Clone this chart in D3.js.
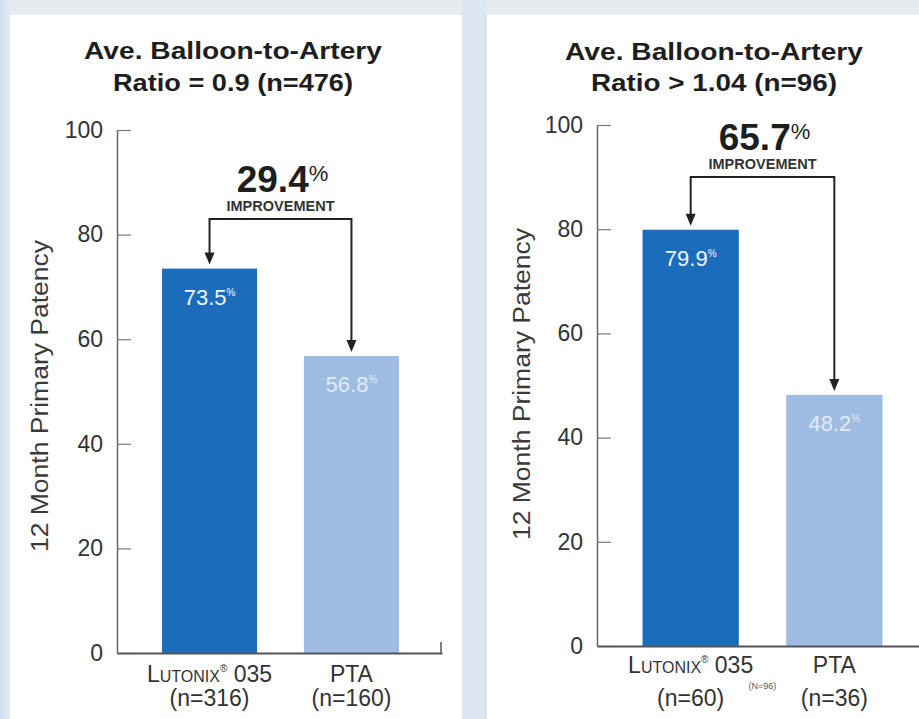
<!DOCTYPE html>
<html>
<head>
<meta charset="utf-8">
<script src="https://cdn.jsdelivr.net/npm/d3@7"></script>
<style>
  html, body { margin: 0; padding: 0; background: #e7ecf1; }
  svg { display: block; font-family: "Liberation Sans", Arial, sans-serif; }
</style>
</head>
<body>
<svg id="chart" width="919" height="719"></svg>
<script>
// ---- data ----
const categories = ["LUTONIX 035", "PTA"];
const leftTitle = ["Ave. Balloon-to-Artery", "Ratio = 0.9 (n=476)"];
const rightTitle = ["Ave. Balloon-to-Artery", "Ratio > 1.04 (n=96)"];
const leftValues = [73.5, 56.8];
const rightValues = [79.9, 48.2];
const leftCounts = ["(n=316)", "(n=160)"];
const rightCounts = ["(n=60)", "(n=36)"];
const leftImprovement = "29.4";
const rightImprovement = "65.7";
const rightNote = "(N=96)";
const yTicks = [0, 20, 40, 60, 80, 100];
const yLabel = "12 Month Primary Patency";
const bracketLevels = [83, 90];

// ---- layout ----
const colors = ["#1b6dbc", "#9fbce2"];
const valueTextColors = ["#ffffff", "#eef3fb"];
const layouts = [
  { x0: 10, x1: 462, axisX: 117, yTop: 130, yBot: 653, bandEnd: 444, xEnd: 442, endTick: true,
    titleX: 233, titleY: [59, 91], titleLen: [298, 240], ylabX: 48, ylabY: 396,
    catY: [682, 706] },
  { x0: 487, x1: 919, axisX: 597, yTop: 125, yBot: 646, bandEnd: 928, xEnd: 930, endTick: false,
    titleX: 714, titleY: [60, 91], titleLen: [298, 246], ylabX: 530, ylabY: 384,
    catY: [673, 706] }
];
const panels = [
  { title: leftTitle, values: leftValues, counts: leftCounts, imp: leftImprovement, note: null, level: bracketLevels[0] },
  { title: rightTitle, values: rightValues, counts: rightCounts, imp: rightImprovement, note: rightNote, level: bracketLevels[1] }
];

const svg = d3.select("#chart");

// background
svg.append("rect").attr("x", 0).attr("y", 0).attr("width", 919).attr("height", 719).attr("fill", "#e6ebf0");
const grad = svg.append("defs").append("linearGradient").attr("id", "edge").attr("x1", 0).attr("x2", 1);
grad.append("stop").attr("offset", 0).attr("stop-color", "#cfe0f0");
grad.append("stop").attr("offset", 1).attr("stop-color", "#e2ebf4");
svg.append("rect").attr("x", 0).attr("y", 0).attr("width", 10).attr("height", 719).attr("fill", "url(#edge)");
svg.append("rect").attr("x", 462).attr("y", 0).attr("width", 25).attr("height", 719).attr("fill", "#dce6f0");

panels.forEach((p, i) => {
  const L = layouts[i];
  const g = svg.append("g");

  g.append("rect").attr("x", L.x0).attr("y", 15).attr("width", L.x1 - L.x0).attr("height", 719 - 15)
    .attr("fill", "#ffffff");

  const y = d3.scaleLinear().domain([0, 100]).range([L.yBot, L.yTop]);
  const x = d3.scaleBand().domain(categories).range([L.axisX, L.bandEnd])
    .paddingInner(0.33).paddingOuter(0.317);

  // title
  p.title.forEach((t, k) => {
    g.append("text").attr("x", L.titleX).attr("y", L.titleY[k])
      .attr("text-anchor", "middle").attr("font-size", 24).attr("font-weight", "bold")
      .attr("fill", "#1e1e1e").attr("textLength", L.titleLen[k]).attr("lengthAdjust", "spacingAndGlyphs")
      .text(t);
  });

  // bars
  g.selectAll("rect.bar").data(p.values).enter().append("rect").attr("class", "bar")
    .attr("x", (d, k) => x(categories[k]))
    .attr("y", d => y(d))
    .attr("width", x.bandwidth())
    .attr("height", d => y(0) - y(d))
    .attr("fill", (d, k) => colors[k]);

  // value labels
  p.values.forEach((v, k) => {
    const t = g.append("text").attr("x", x(categories[k]) + x.bandwidth() / 2).attr("y", y(v) + 36)
      .attr("text-anchor", "middle").attr("fill", valueTextColors[k]).attr("font-size", 22)
      .attr("opacity", k === 0 ? 0.95 : 0.85);
    t.append("tspan").text(v.toFixed(1));
    t.append("tspan").attr("font-size", 10).attr("dy", -9).text("%");
  });

  // y axis
  const yAxis = d3.axisLeft(y).tickValues(yTicks).tickSizeInner(-14).tickSizeOuter(0).tickPadding(14);
  const ya = g.append("g").attr("transform", `translate(${L.axisX},0)`).call(yAxis);
  ya.select(".domain").attr("stroke", "#666").attr("stroke-width", 1.5);
  ya.selectAll(".tick line").attr("stroke", "#777").attr("stroke-width", 1.2);
  ya.selectAll(".tick text").attr("font-size", 23).attr("fill", "#333")
    .attr("font-family", "Liberation Sans, Arial, sans-serif");

  // x axis line
  const xAxis = d3.axisBottom(d3.scaleLinear().domain([0, 1]).range([L.axisX, L.xEnd]))
    .tickValues([]).tickSizeOuter(0);
  const xa = g.append("g").attr("transform", `translate(0,${L.yBot})`).call(xAxis);
  xa.select(".domain").attr("stroke", "#555").attr("stroke-width", 2);
  if (L.endTick) {
    g.append("line").attr("x1", L.xEnd - 1).attr("x2", L.xEnd - 1).attr("y1", L.yBot - 11).attr("y2", L.yBot)
      .attr("stroke", "#555").attr("stroke-width", 1.5);
  }

  // y label
  g.append("text").attr("transform", `translate(${L.ylabX},${L.ylabY}) rotate(-90)`)
    .attr("text-anchor", "middle").attr("font-size", 23).attr("fill", "#3a3a3a")
    .attr("textLength", 312).attr("lengthAdjust", "spacingAndGlyphs")
    .text(yLabel);

  // category labels
  categories.forEach((c, k) => {
    const cx = x(c) + x.bandwidth() / 2;
    const t = g.append("text").attr("x", cx).attr("y", L.catY[0]).attr("text-anchor", "middle")
      .attr("fill", "#333").attr("font-size", 23);
    if (k === 0) {
      t.append("tspan").text("L");
      t.append("tspan").attr("font-size", 16).text("UTONIX");
      t.append("tspan").attr("font-size", 10).attr("dy", -10).text("®");
      t.append("tspan").attr("dy", 10).text(" 035");
    } else {
      t.text(c);
    }
    g.append("text").attr("x", cx).attr("y", L.catY[1]).attr("text-anchor", "middle")
      .attr("fill", "#333").attr("font-size", 23).text(p.counts[k]);
  });

  if (p.note) {
    const mid = (x(categories[0]) + x.bandwidth() + x(categories[1])) / 2;
    g.append("text").attr("x", mid).attr("y", 689).attr("text-anchor", "middle")
      .attr("font-size", 9).attr("fill", "#555").text(p.note);
  }

  // bracket annotation
  const xa0 = x(categories[0]) + x.bandwidth() / 2;
  const xa1 = x(categories[1]) + x.bandwidth() / 2;
  const by = y(p.level);
  const tips = p.values.map(v => y(v) - 4);
  g.append("path")
    .attr("d", `M${xa0},${tips[0] - 10} V${by} H${xa1} V${tips[1] - 10}`)
    .attr("fill", "none").attr("stroke", "#222").attr("stroke-width", 2);
  [xa0, xa1].forEach((ax, k) => {
    g.append("path")
      .attr("d", `M${ax - 5},${tips[k] - 12} L${ax + 5},${tips[k] - 12} L${ax},${tips[k]} Z`)
      .attr("fill", "#222");
  });
  const bc = (xa0 + xa1) / 2;
  g.append("text").attr("x", bc).attr("y", by - 8).attr("text-anchor", "middle")
    .attr("font-size", 14).attr("font-weight", "bold").attr("fill", "#333")
    .attr("textLength", 108).attr("lengthAdjust", "spacingAndGlyphs").text("IMPROVEMENT");
  const it = g.append("text").attr("x", bc + 2).attr("y", by - 27).attr("text-anchor", "middle")
    .attr("fill", "#1e1e1e");
  it.append("tspan").attr("font-size", 37).attr("font-weight", "bold").text(p.imp);
  it.append("tspan").attr("font-size", 22).attr("dy", -11).text("%");
});
</script>
</body>
</html>
